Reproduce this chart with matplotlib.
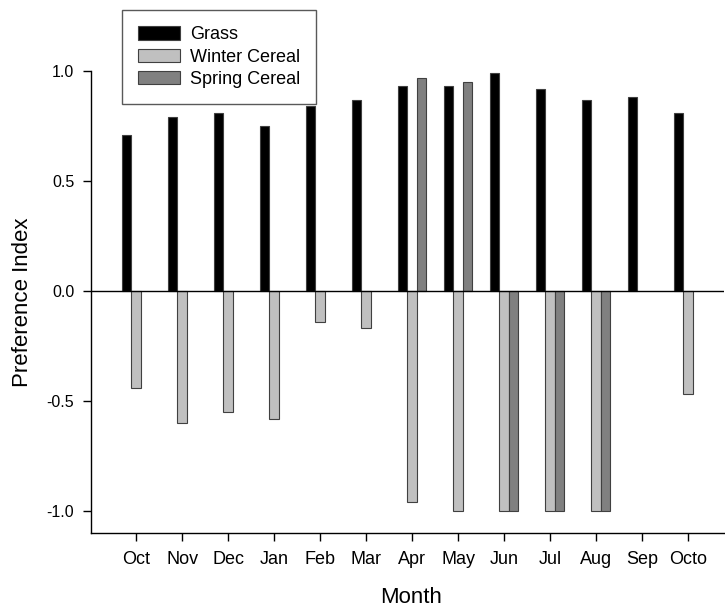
import numpy as np
import matplotlib
matplotlib.use("Agg")
import matplotlib.pyplot as plt
from matplotlib.patches import Patch

plt.rcParams['font.family'] = ['Liberation Sans', 'DejaVu Sans']

months = ["Oct", "Nov", "Dec", "Jan", "Feb", "Mar", "Apr", "May", "Jun",
          "Jul", "Aug", "Sep", "Octo"]
grass = [0.71, 0.79, 0.81, 0.75, 0.84, 0.87, 0.93, 0.93, 0.99, 0.92, 0.87, 0.88, 0.81]
winter_cereal = [-0.44, -0.60, -0.55, -0.58, -0.14, -0.17, -0.96, -1.0, -1.0, -1.0, -1.0, 0.0, -0.47]
spring_cereal = [0.0, 0.0, 0.0, 0.0, 0.0, 0.0, 0.97, 0.95, -1.0, -1.0, -1.0, 0.0, 0.0]
series_names = ["Grass", "Winter Cereal", "Spring Cereal"]
colors = ["#000000", "#c0c0c0", "#808080"]

W, H = 725, 609
fig = plt.figure(figsize=(W / 100, H / 100), dpi=100)
ax = fig.add_axes([91 / W, 1 - 533 / H, (724 - 91) / W, (533 - 71) / H])

x = np.arange(len(months))
bw = 0.207
edge = "#404040"
for k, (vals, c) in enumerate(zip([grass, winter_cereal, spring_cereal], colors)):
    vals = np.array(vals)
    mask = vals != 0
    ax.bar(x[mask] + (k - 1) * bw, vals[mask], width=bw, color=c,
           edgecolor=edge, linewidth=0.8, zorder=2)

ax.axhline(0, color="black", linewidth=1.0, zorder=3)

ax.set_xlim(-0.98, 12.78)
ax.set_ylim(-1.1, 1.0)
ax.set_yticks([-1.0, -0.5, 0.0, 0.5, 1.0])
ax.set_yticklabels(["-1.0", "-0.5", "0.0", "0.5", "1.0"])
ax.set_xticks(x)
ax.set_xticklabels(months)

for s in ["top", "right"]:
    ax.spines[s].set_visible(False)
for s in ["left", "bottom"]:
    ax.spines[s].set_linewidth(1.0)
    ax.spines[s].set_color("black")

ax.tick_params(axis="both", direction="out", length=6, width=1.0,
               colors="black")
ax.tick_params(axis="x", labelsize=13, pad=7)
ax.tick_params(axis="y", labelsize=11.5, pad=6)

ax.set_xlabel("Month", fontsize=16)
ax.xaxis.set_label_coords(0.5055, -0.117)
ax.set_ylabel("Preference Index", fontsize=16, labelpad=10)

handles = [Patch(facecolor=c, edgecolor=edge, linewidth=0.8) for c in colors]
leg = fig.legend(handles, series_names, loc="upper left",
                 bbox_to_anchor=(122 / W, 1 - 10 / H),
                 frameon=True, fancybox=False, fontsize=13,
                 handlelength=2.3, handleheight=0.75, handletextpad=0.55,
                 labelspacing=0.3, borderpad=0.9, borderaxespad=0)
leg.get_frame().set_edgecolor("#303030")
leg.get_frame().set_linewidth(1.0)

fig.savefig("out.png", dpi=100)
